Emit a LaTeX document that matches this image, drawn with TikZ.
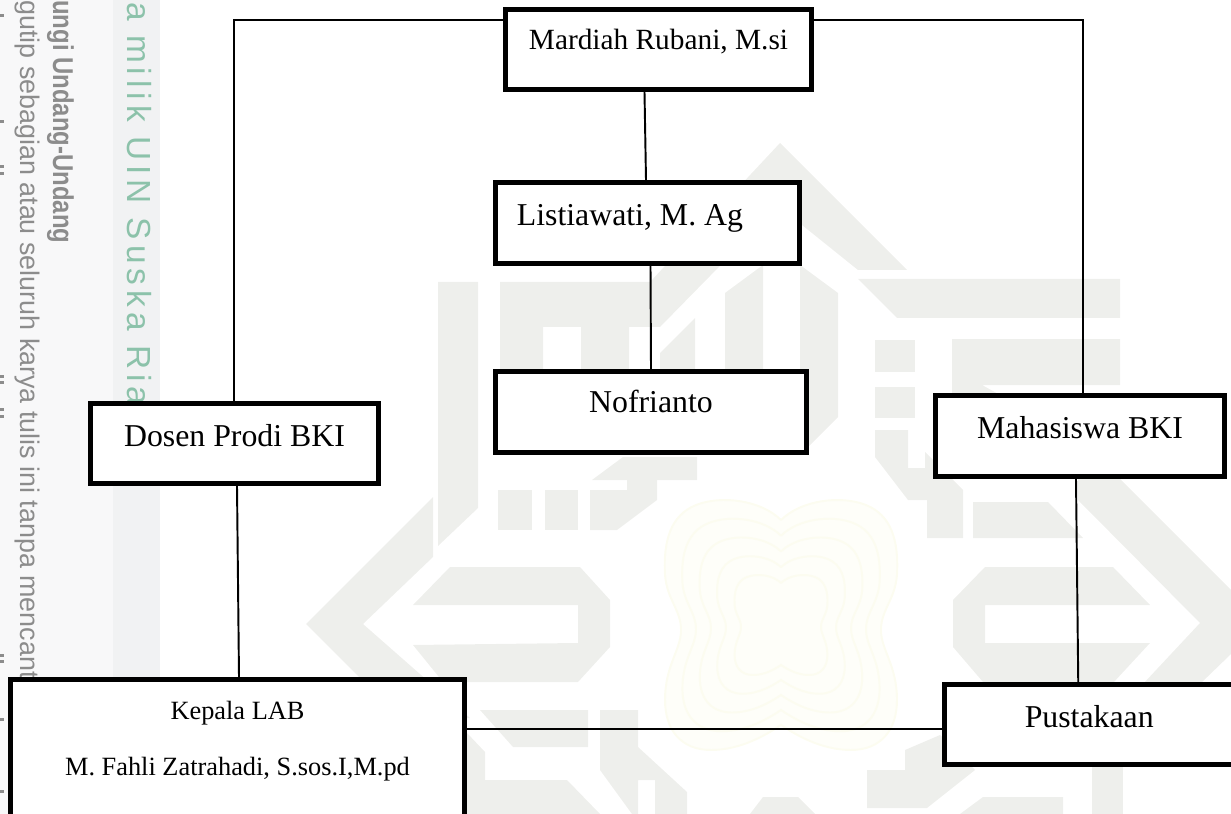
\documentclass[tikz,border=0pt]{standalone}
\usepackage{graphicx}
\usepackage{fontspec}
\setmainfont{Liberation Serif}
\newfontfamily\sidefont{Liberation Sans}
\newfontfamily\sideletter[LetterSpace=15]{Liberation Sans}
\definecolor{bandlight}{HTML}{F8F8F9}
\definecolor{bandmid}{HTML}{F1F2F3}
\definecolor{sidegray}{HTML}{8C8C8C}
\definecolor{sidegreen}{HTML}{8CC2AA}
\definecolor{markgray}{HTML}{EEEFEC}
\definecolor{markyellow}{HTML}{FCFCF0}
\definecolor{markpale}{HTML}{FEFEF9}
\tikzset{
  boxnode/.style={draw=black,fill=white,line width=2.85pt,inner sep=0pt,text height=13pt,text depth=10pt,font=\fontsize{18.1}{22}\selectfont},
  conn/.style={black,line width=1.1pt},
  sidetext/.style={rotate=-90,anchor=base west,inner sep=0pt,text=sidegray},
  logomark/.style={fill=markgray,draw=none},
  flower/.style={draw=markyellow,fill=markpale,line width=1.1pt}
}
\begin{document}
\begin{tikzpicture}[x=0.02cm,y=-0.02cm]
                \useasboundingbox (0,0) rectangle (1231,814);
                \fill[bandlight] (0,0) rectangle (113,814);
                \fill[bandmid] (113,0) rectangle (160,814);

                \node[sidetext,font=\sidefont\bfseries\fontsize{13.6}{16}\selectfont] (sidelaw) at (53,0) {\scalebox{1}[1.2]{ungi Undang-Undang}};
                \node[sidetext,font=\sidefont\fontsize{15.3}{18}\selectfont] (sidequote) at (20,0) {gutip sebagian atau seluruh karya tulis ini tanpa mencant};
                \node[sidetext,text=sidegreen,font=\sideletter\fontsize{19}{22}\selectfont] (sideowner) at (127,2) {a milik UIN Suska Ria};
                \foreach \y in {14,120,165,172,375,381,408,415,654,660,718,790}
                    \fill[sidegray] (0,\y) rectangle (4,\y+3);

                \fill[logomark] (500,282) -- (650,282) -- (780,143) -- (907,270) -- (858,270) -- (802,225) -- (760,225) -- (660,327) -- (629,327) -- (629,372) -- (581,372) -- (581,327) -- (543,327) -- (543,372) -- (500,372) -- cycle;
                \fill[logomark] (660,353) -- (695,318) -- (695,372) -- (660,372) -- cycle;
                \fill[logomark] (725,293) -- (763,265) -- (763,372) -- (725,372) -- cycle;
                \fill[logomark] (800,265) -- (838,293) -- (838,417) -- (800,455) -- cycle;
                \fill[logomark] (858,279) -- (1120,279) -- (1120,318) -- (897,318) -- cycle;
                \fill[logomark] (438,282) -- (478,282) -- (478,508) -- (438,546) -- cycle;
                \fill[logomark] (433,497) -- (306,624) -- (400,718) -- (470,718) -- (363,624) -- (433,557) -- cycle;
                \fill[logomark] (450,567) -- (580,567) -- (610,600) -- (610,647) -- (578,682) -- (443,682) -- (413,645) -- (578,643) -- (578,605) -- (413,605) -- cycle;
                \fill[logomark] (498,490) rectangle (532,530);
                \fill[logomark] (545,490) rectangle (578,530);
                \fill[logomark] (623,457) -- (697,457) -- (697,480) -- (592,480) -- cycle;
                \fill[logomark] (627,480) -- (657,480) -- (657,500) -- (617,530) -- (590,530) -- (590,490) -- (627,490) -- cycle;
                \fill[logomark] (480,710) -- (588,710) -- (588,747) -- (513,747) -- cycle;
                \fill[logomark] (467,733) -- (485,752) -- (485,780) -- (567,780) -- (600,814) -- (467,814) -- cycle;
                \fill[logomark] (600,710) -- (638,710) -- (638,747) -- (687,792) -- (687,814) -- (655,814) -- (655,780) -- (638,780) -- (638,814) -- (632,814) -- (600,770) -- cycle;
                \fill[logomark] (750,814) -- (763,797) -- (798,797) -- (815,814) -- cycle;
                \fill[logomark] (960,814) -- (983,797) -- (1063,797) -- (1063,814) -- cycle;
                \fill[logomark] (905,750) -- (940,735) -- (975,770) -- (927,808) -- (867,808) -- (867,770) -- (905,770) -- cycle;
                \fill[logomark] (1092,760) rectangle (1123,814);
                \fill[logomark] (985,567) -- (1113,567) -- (1150,605) -- (985,605) -- (985,643) -- (1150,643) -- (1113,683) -- (983,682) -- (953,647) -- (953,600) -- cycle;
                \fill[logomark] (1120,479) -- (1231,590) -- (1231,654) -- (1200,684) -- (1143,684) -- (1200,623) -- (1078,500) -- (1078,479) -- cycle;
                \fill[logomark] (973,502) -- (1048,502) -- (1083,538) -- (973,538) -- cycle;
                \fill[logomark] (875,430) -- (908,430) -- (908,468) -- (925,468) -- (925,452) -- (963,490) -- (963,538) -- (927,538) -- (927,500) -- (908,500) -- (875,457) -- cycle;
                \fill[logomark] (875,340) rectangle (915,372);
                \fill[logomark] (875,387) rectangle (915,418);
                \fill[logomark] (952,339) -- (1120,339) -- (1120,385) -- (982,385) -- (1000,395) -- (952,395) -- cycle;

                \foreach \s in {1,0.85,0.7,0.55,0.4}
                    \draw[flower,shift={(781,625)},scale=\s] (0,-105) .. controls (20,-125) and (60,-130) .. (85,-120) .. controls (110,-110) and (118,-85) .. (116,-50) .. controls (114,-25) and (100,-15) .. (100,5) .. controls (100,25) and (116,40) .. (116,75) .. controls (116,105) and (100,125) .. (70,125) .. controls (40,125) and (15,110) .. (0,100) .. controls (-15,110) and (-40,125) .. (-70,125) .. controls (-100,125) and (-116,105) .. (-116,75) .. controls (-116,40) and (-100,25) .. (-100,5) .. controls (-100,-15) and (-114,-25) .. (-116,-50) .. controls (-118,-85) and (-110,-110) .. (-85,-120) .. controls (-60,-130) and (-20,-125) .. (0,-105);

                \node[boxnode,minimum width=6.12cm,minimum height=1.6cm,text height=11.5pt,text depth=11.5pt,font=\fontsize{16.7}{22}\selectfont] (mardiah) at (658.5,49.5) {Mardiah Rubani, M.si};
                \node[boxnode,minimum width=6.08cm,minimum height=1.62cm] (listiawati) at (647.5,223) {Listiawati, M. Ag\hspace*{20pt}};
                \node[boxnode,minimum width=6.21cm,minimum height=1.62cm,text height=12pt,text depth=11pt] (nofrianto) at (651,412) {Nofrianto};
                \node[boxnode,minimum width=5.76cm,minimum height=1.6cm] (dosen) at (234.5,443.5) {Dosen Prodi BKI};
                \node[boxnode,minimum width=5.78cm,minimum height=1.62cm] (mahasiswa) at (1080,436) {Mahasiswa BKI};
                \node[boxnode,minimum width=5.79cm,minimum height=1.6cm] (pustakaan) at (1089.25,724.5) {Pustakaan};
                \node[boxnode,minimum width=9.08cm,minimum height=2.74cm,align=center,text height=,text depth=,font=\fontsize{15}{32.4}\selectfont] (kepala) at (237.5,748) {Kepala LAB\\M. Fahli Zatrahadi, S.sos.I,M.pd\rule[-11pt]{0pt}{11pt}};

                \coordinate (leftcorner) at (234,20);
                \coordinate (rightcorner) at (1083,20);
                \coordinate (labline) at (700,729);

                \draw[conn] (mardiah.west |- leftcorner) -- (leftcorner) -- (dosen.north -| leftcorner);
                \draw[conn,line width=0.9pt] (mardiah.east |- rightcorner) -- (rightcorner) -- (mahasiswa.north -| rightcorner);
                \draw[conn] ([shift={(-14,0)}]mardiah.south) -- ([shift={(-1.5,0)}]listiawati.north);
                \draw[conn] ([shift={(3,0)}]listiawati.south) -- (nofrianto.north);
                \draw[conn] ([shift={(2.5,0)}]dosen.south) -- ([shift={(1.5,0)}]kepala.north);
                \draw[conn] ([shift={(-4,0)}]mahasiswa.south) -- ([shift={(-11,0)}]pustakaan.north);
                \draw[conn] (kepala.east |- labline) -- (pustakaan.west |- labline);
\end{tikzpicture}
\end{document}
